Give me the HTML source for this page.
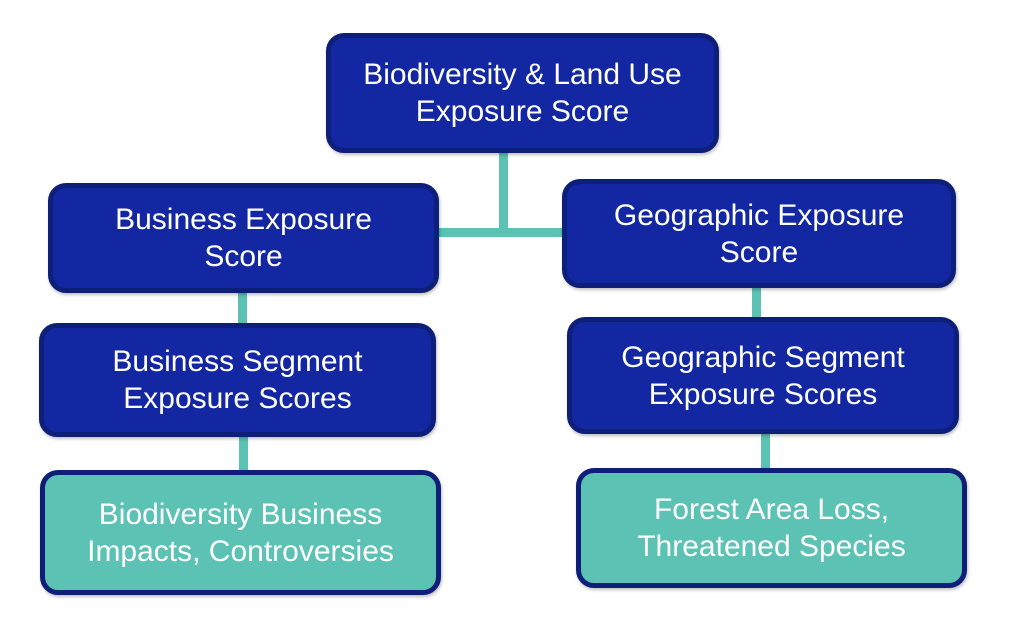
<!DOCTYPE html>
<html><head><style>
body{margin:0;width:1024px;height:624px;background:#fff;position:relative;overflow:hidden;font-family:"Liberation Sans",sans-serif}
.b{position:absolute;box-sizing:border-box;border:5px solid #0e1f7a;border-radius:18px;background:#1227a1;color:#fff;display:flex;align-items:center;justify-content:center;text-align:center;font-size:30px;line-height:37px;box-shadow:1px 2px 3px rgba(0,0,0,.25)}
.t{background:#5bc2b4}
.l{position:absolute;background:#5bc2b4}
</style></head><body>
<div class="l" style="left:499px;top:150px;width:9px;height:86px"></div>
<div class="l" style="left:436px;top:228px;width:130px;height:9px"></div>
<div class="l" style="left:238px;top:290px;width:9px;height:36px"></div>
<div class="l" style="left:239px;top:434px;width:9px;height:40px"></div>
<div class="l" style="left:752px;top:285px;width:9px;height:36px"></div>
<div class="l" style="left:761px;top:431px;width:9px;height:40px"></div>
<div class="b" style="left:326px;top:33px;width:393px;height:120px">Biodiversity &amp; Land Use<br>Exposure Score</div>
<div class="b" style="left:48px;top:183px;width:391px;height:110px">Business Exposure<br>Score</div>
<div class="b" style="left:39px;top:323px;width:397px;height:114px">Business Segment<br>Exposure Scores</div>
<div class="b t" style="left:40px;top:470px;width:401px;height:125px">Biodiversity Business<br>Impacts, Controversies</div>
<div class="b" style="left:562px;top:179px;width:394px;height:109px">Geographic Exposure<br>Score</div>
<div class="b" style="left:567px;top:317px;width:392px;height:117px">Geographic Segment<br>Exposure Scores</div>
<div class="b t" style="left:576px;top:468px;width:391px;height:120px">Forest Area Loss,<br>Threatened Species</div>
</body></html>
